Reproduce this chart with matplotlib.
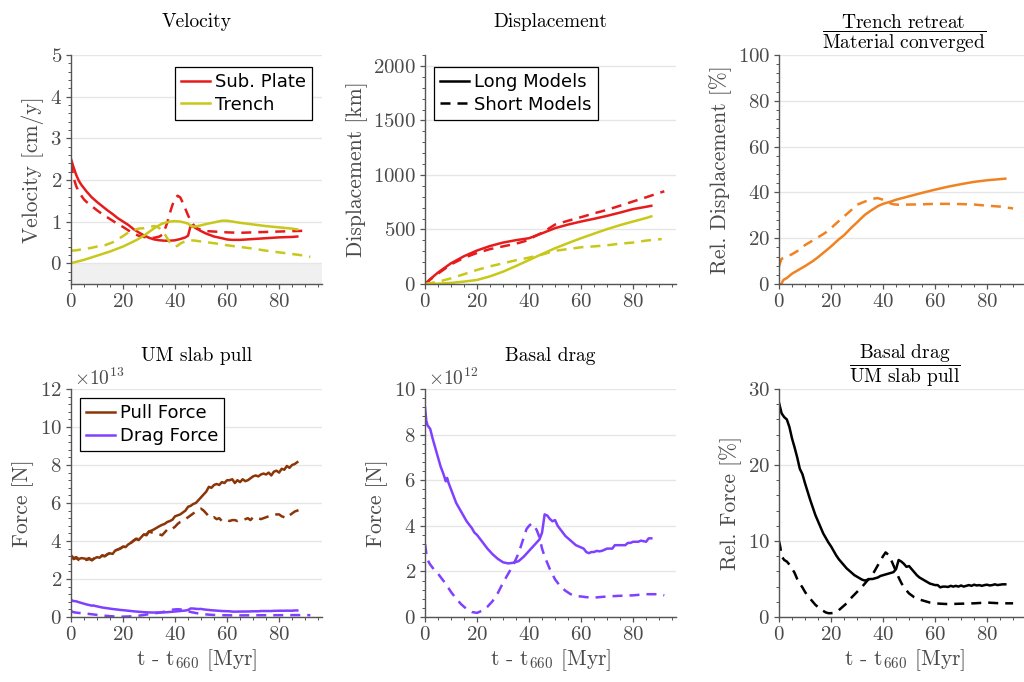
import numpy as np
import matplotlib
matplotlib.use('Agg')
import matplotlib.pyplot as plt
from matplotlib.ticker import MultipleLocator
from matplotlib.lines import Line2D

# ---- velocity [cm/y] ----
t_plate_vel = [0, 1, 2, 3, 4, 5, 6, 8, 10, 12, 14, 16, 18, 20, 22, 24, 26, 28, 30, 32, 34, 36, 38, 40, 42, 44, 45,
               46, 47, 48, 50, 52, 55, 58, 60, 62, 65, 70, 75, 80, 85, 87]
plate_vel = [2.5, 2.3, 2.12, 1.98, 1.88, 1.8, 1.72, 1.58, 1.47, 1.37, 1.27, 1.18, 1.08, 1.0, 0.92, 0.82, 0.74, 0.67,
             0.61, 0.57, 0.55, 0.54, 0.54, 0.55, 0.58, 0.62, 0.66, 0.9, 0.88, 0.84, 0.77, 0.71, 0.64, 0.6, 0.57, 0.56,
             0.56, 0.58, 0.6, 0.62, 0.63, 0.64]
t_plate_vel_s = [0, 1, 2, 3, 4, 5, 6, 8, 10, 12, 14, 16, 18, 20, 22, 24, 26, 28, 30, 32, 34, 35, 36, 37, 38, 39, 40,
                 41, 42, 43, 44, 45, 46, 47, 48, 50, 52, 55, 60, 65, 70, 75, 80, 85, 91]
plate_vel_s = [2.4, 2.05, 1.85, 1.72, 1.62, 1.53, 1.47, 1.37, 1.27, 1.18, 1.1, 1.02, 0.94, 0.87, 0.79, 0.71, 0.66,
               0.63, 0.61, 0.61, 0.64, 0.68, 0.8, 0.97, 1.2, 1.4, 1.55, 1.62, 1.58, 1.45, 1.3, 1.15, 1.02, 0.93, 0.85,
               0.8, 0.77, 0.76, 0.74, 0.73, 0.74, 0.75, 0.76, 0.77, 0.78]
t_trench_vel = [0, 5, 10, 15, 20, 25, 28, 30, 32, 35, 38, 40, 42, 44, 45, 46, 47, 48, 50, 52, 55, 58, 60, 62, 65, 70,
                75, 80, 85, 87]
trench_vel = [0.0, 0.08, 0.18, 0.28, 0.4, 0.55, 0.66, 0.75, 0.84, 0.95, 1.0, 1.01, 1.0, 0.97, 0.95, 0.9, 0.88, 0.88,
              0.91, 0.94, 0.98, 1.02, 1.02, 1.0, 0.97, 0.93, 0.89, 0.86, 0.83, 0.81]
t_trench_vel_s = [0, 2, 5, 8, 10, 13, 16, 20, 23, 26, 28, 30, 32, 33, 34, 35, 36, 37, 38, 39, 40, 41, 42, 44, 46, 48,
                  50, 55, 60, 65, 70, 75, 80, 85, 90, 92]
trench_vel_s = [0.3, 0.31, 0.34, 0.37, 0.4, 0.43, 0.5, 0.65, 0.78, 0.83, 0.84, 0.87, 0.89, 0.88, 0.84, 0.78, 0.7, 0.6,
                0.5, 0.43, 0.4, 0.42, 0.47, 0.53, 0.55, 0.54, 0.52, 0.48, 0.43, 0.39, 0.35, 0.3, 0.26, 0.22, 0.18, 0.15]

# ---- displacement [km] ----
t_plate_disp = [0, 2, 5, 10, 15, 20, 25, 30, 35, 40, 45, 50, 55, 60, 65, 70, 75, 80, 85, 87]
plate_disp = [0, 45, 105, 190, 255, 307, 348, 380, 402, 420, 465, 512, 545, 573, 598, 625, 655, 687, 708, 717]
t_plate_disp_s = [0, 2, 5, 10, 15, 20, 25, 30, 35, 38, 40, 42, 45, 50, 55, 60, 65, 70, 75, 80, 85, 90, 92]
plate_disp_s = [0, 40, 95, 180, 240, 285, 320, 345, 370, 390, 405, 435, 470, 545, 580, 613, 648, 680, 718, 757, 795,
                835, 850]
t_trench_disp = [0, 5, 10, 15, 20, 25, 30, 35, 40, 45, 50, 55, 60, 65, 70, 75, 80, 85, 87]
trench_disp = [0, 3, 10, 22, 37, 70, 113, 165, 220, 275, 328, 375, 420, 462, 503, 540, 573, 605, 620]
t_trench_disp_s = [0, 5, 10, 15, 20, 25, 30, 35, 40, 45, 50, 55, 60, 65, 70, 75, 80, 85, 91]
trench_disp_s = [0, 20, 52, 90, 129, 162, 190, 218, 242, 270, 305, 320, 337, 345, 355, 370, 380, 398, 412]

# ---- relative displacement [%] ----
t_rel_disp = [0, 1, 1.5, 2, 3, 5, 8, 10, 13, 15, 18, 20, 23, 25, 28, 30, 33, 35, 38, 40, 43, 45, 50, 55, 60, 65, 70,
              75, 80, 85, 87]
rel_disp = [0, 0, 1.5, 2.0, 2.6, 4.5, 6.5, 7.8, 10.0, 11.7, 14.5, 16.4, 19.5, 21.3, 24.8, 26.9, 30.2, 31.8, 34.0,
            35.0, 36.0, 36.8, 38.3, 39.8, 41.2, 42.5, 43.6, 44.6, 45.3, 45.8, 46.0]
t_rel_disp_s = [0, 0.5, 1, 3, 5, 8, 10, 13, 15, 18, 20, 23, 25, 28, 30, 33, 35, 37, 38, 40, 42, 44, 46, 50, 55, 60,
                65, 70, 75, 80, 85, 90]
rel_disp_s = [7.6, 9.5, 11, 12, 13, 15, 17, 19, 20.4, 22.5, 24.4, 27.5, 29.5, 32.5, 34.6, 36.0, 36.8, 37.4, 37.5,
              36.8, 35.5, 34.8, 34.6, 34.7, 34.8, 35.0, 35.0, 34.9, 34.7, 34.2, 33.8, 33.0]

# ---- UM slab pull [x1e13 N], 1 Myr steps ----
pull = [3.25, 3.1, 3.15, 3.05, 3.1, 3.08, 3.05, 3.1, 2.98, 3.08, 3.15, 3.12, 3.25, 3.2, 3.3, 3.35, 3.32, 3.5, 3.55,
        3.6, 3.7, 3.68, 3.82, 3.9, 4.0, 4.1, 4.05, 4.2, 4.35, 4.3, 4.5, 4.55, 4.62, 4.7, 4.78, 4.85, 4.9, 5.0, 5.05,
        5.12, 5.3, 5.35, 5.4, 5.5, 5.6, 5.8, 5.85, 5.95, 6.0, 6.15, 6.3, 6.45, 6.6, 6.85, 6.8, 6.95, 7.0, 6.95, 7.1,
        7.05, 7.2, 7.2, 7.25, 7.05, 7.2, 7.1, 7.25, 7.15, 7.2, 7.3, 7.4, 7.45, 7.4, 7.5, 7.55, 7.5, 7.6, 7.45, 7.65,
        7.7, 7.6, 7.8, 7.75, 7.95, 7.85, 8.0, 8.05, 8.15]
pull_s = [3.2, 3.05, 3.1, 3.0, 3.08, 3.05, 3.0, 3.05, 3.0, 3.1, 3.12, 3.15, 3.22, 3.2, 3.3, 3.38, 3.35, 3.5, 3.55,
          3.62, 3.7, 3.7, 3.85, 3.9, 4.02, 4.12, 4.1, 4.2, 4.32, 4.35, 4.5, 4.45, 4.4, 4.35, 4.35, 4.3, 4.45, 4.6,
          4.55, 4.65, 4.75, 4.9, 5.0, 5.05, 5.15, 5.25, 5.35, 5.45, 5.55, 5.65, 5.7, 5.6, 5.45, 5.3, 5.2, 5.25, 5.15,
          5.2, 5.05, 5.1, 5.1, 5.05, 5.1, 5.1, 5.05, 5.1, 5.1, 5.15, 5.2, 5.1, 5.25, 5.2, 5.2, 5.15, 5.2, 5.25, 5.3,
          5.3, 5.35, 5.4, 5.4, 5.3, 5.25, 5.2, 5.35, 5.45, 5.55, 5.6, 5.65, 5.7]
t_pull = np.arange(len(pull))
t_pull_s = np.arange(len(pull_s))

# ---- basal drag [x1e12 N] ----
t_drag = [0, 0.5, 1, 2, 3, 4, 5, 6, 7, 8, 8.5, 9, 10, 11, 12, 13, 14, 15, 16, 17, 18, 19, 20, 22, 24, 26, 28, 30, 32,
          34, 36, 38, 40, 42, 44, 45, 46, 47, 48, 49, 50, 51, 52, 54, 56, 58, 60, 61, 62, 63, 64, 65, 66, 67, 68, 69,
          70, 71, 72, 73, 75, 77, 78, 79, 80, 82, 83, 85, 86, 87]
drag = [9.2, 8.6, 8.4, 8.25, 7.8, 7.4, 7.0, 6.6, 6.3, 5.95, 6.1, 5.9, 5.6, 5.3, 5.0, 4.8, 4.6, 4.4, 4.2, 4.05, 3.9,
        3.7, 3.6, 3.3, 3.0, 2.75, 2.55, 2.4, 2.35, 2.38, 2.45, 2.65, 2.9, 3.15, 3.4, 3.7, 4.5, 4.45, 4.3, 4.2, 4.25,
        4.0, 3.85, 3.55, 3.35, 3.15, 3.05, 3.0, 2.85, 2.8, 2.85, 2.85, 2.9, 2.88, 2.9, 2.95, 3.0, 3.0, 3.0, 3.15,
        3.15, 3.15, 3.25, 3.25, 3.3, 3.3, 3.35, 3.3, 3.45, 3.45]
t_drag_s = [0, 0.5, 1, 2, 3, 4, 5, 6, 8, 10, 12, 14, 16, 18, 20, 22, 24, 26, 28, 30, 32, 34, 36, 38, 39, 40, 41, 42,
            43, 44, 45, 46, 48, 50, 52, 54, 56, 58, 60, 62, 65, 68, 70, 75, 80, 85, 90, 92]
drag_s = [3.2, 2.8, 2.5, 2.3, 2.15, 2.0, 1.9, 1.75, 1.45, 1.1, 0.8, 0.55, 0.35, 0.22, 0.18, 0.28, 0.45, 0.7, 1.05,
          1.5, 1.9, 2.3, 2.8, 3.5, 3.85, 4.0, 4.1, 4.0, 3.8, 3.5, 3.0, 2.65, 2.1, 1.65, 1.35, 1.15, 1.0, 0.92, 0.9,
          0.87, 0.85, 0.88, 0.9, 0.93, 0.95, 1.0, 1.0, 0.95]

# ---- relative force [%] ----
rel_force = [28.2, 26.8, 26.3, 26.0, 25.0, 23.5, 22.3, 21.0, 19.5, 18.8, 17.6, 16.5, 15.4, 14.4, 13.4, 12.6, 11.8,
             11.0, 10.4, 9.8, 9.3, 8.7, 8.1, 7.6, 7.2, 6.8, 6.4, 6.1, 5.8, 5.5, 5.3, 5.1, 4.9, 4.8, 4.9, 5.0, 5.0,
             5.1, 5.2, 5.4, 5.5, 5.6, 5.7, 5.8, 5.9, 6.3, 7.5, 7.3, 7.0, 6.6, 6.7, 6.3, 5.9, 5.5, 5.2, 5.0, 4.8, 4.6,
             4.4, 4.3, 4.2, 4.2, 3.9, 4.0, 4.0, 3.95, 4.1, 4.0, 4.1, 4.0, 4.15, 4.0, 4.1, 4.2, 4.1, 4.25, 4.15, 4.2,
             4.1, 4.2, 4.25, 4.15, 4.2, 4.3, 4.2, 4.25, 4.3, 4.3]
t_rel_force = np.arange(len(rel_force))
t_rel_force_s = [0, 0.5, 1, 2, 3, 4, 5, 6, 7, 8, 9, 10, 11, 12, 13, 14, 15, 16, 17, 18, 19, 20, 21, 22, 23, 24, 26,
                 28, 30, 32, 34, 36, 38, 40, 41, 42, 43, 44, 45, 46, 47, 48, 50, 52, 54, 56, 58, 60, 62, 65, 70, 75,
                 80, 85, 90]
rel_force_s = [10.0, 9.2, 8.0, 7.5, 7.3, 6.9, 6.4, 5.8, 5.0, 4.4, 3.9, 3.3, 2.8, 2.4, 2.0, 1.6, 1.3, 1.0, 0.8, 0.6,
               0.5, 0.5, 0.55, 0.7, 0.9, 1.2, 1.8, 2.6, 3.3, 4.0, 4.8, 5.6, 6.8, 8.0, 8.5, 8.2, 7.6, 6.8, 6.0, 5.2,
               4.5, 3.9, 3.1, 2.6, 2.3, 2.1, 1.9, 1.8, 1.75, 1.7, 1.75, 1.8, 1.9, 1.8, 1.8]

red = '#e61c1c'
yellow = '#c8c81a'
orange = '#f08222'
brown = '#8a3608'
purple = '#8040ff'
gray_txt = '#4a4a4a'

plt.rcParams['font.family'] = ['cmr10']
plt.rcParams['mathtext.fontset'] = 'cm'
plt.rcParams['axes.formatter.use_mathtext'] = True
plt.rcParams['axes.unicode_minus'] = False

lw = 1.8
dash = (4.0, 2.8)
tick_fs = 15
label_fs = 15.5
title_fs = 14

fig = plt.figure(figsize=(10.24, 6.82), dpi=100)
lefts = [71 / 1024, 425 / 1024, 779 / 1024]
w = 251 / 1024
top_b, top_h = 1 - 284 / 682, 229 / 682
bot_b, bot_h = 1 - 617 / 682, 228 / 682
axes = [[fig.add_axes([l, top_b, w, top_h]) for l in lefts],
        [fig.add_axes([l, bot_b, w, bot_h]) for l in lefts]]


def style(ax, ylim, major, minor):
    ax.set_xlim(0, 96.5)
    ax.set_ylim(*ylim)
    ax.xaxis.set_major_locator(MultipleLocator(20))
    ax.xaxis.set_minor_locator(MultipleLocator(5))
    ax.yaxis.set_major_locator(MultipleLocator(major))
    ax.yaxis.set_minor_locator(MultipleLocator(minor))
    for s in ['top', 'right']:
        ax.spines[s].set_visible(False)
    for s in ['left', 'bottom']:
        ax.spines[s].set_color('#555555')
        ax.spines[s].set_linewidth(1.0)
    ax.tick_params(which='major', direction='out', length=3.5, width=0.9, color='#555555',
                   labelsize=tick_fs, labelcolor=gray_txt, pad=3)
    ax.tick_params(which='minor', direction='out', length=2, width=0.7, color='#555555')
    ax.grid(axis='y', which='major', color='#e6e6e6', lw=1.0)
    ax.set_axisbelow(True)


def legend(ax, handles, labels, anchor, loc):
    lg = ax.legend(handles, labels, loc=loc, bbox_to_anchor=anchor, borderaxespad=0,
                   prop={'family': 'DejaVu Sans', 'size': 13}, fancybox=False, framealpha=1,
                   edgecolor='black', handlelength=1.6, handletextpad=0.25, labelspacing=0.25,
                   borderpad=0.35)
    lg.get_frame().set_linewidth(0.9)


# Velocity
ax = axes[0][0]
style(ax, (-0.5, 5), 1, 0.2)
ax.axhspan(-0.5, 0, color='#f0f0f0', lw=0, zorder=0)
ax.plot(t_plate_vel, plate_vel, color=red, lw=lw)
ax.plot(t_plate_vel_s, plate_vel_s, color=red, lw=lw, dashes=dash)
ax.plot(t_trench_vel, trench_vel, color=yellow, lw=lw)
ax.plot(t_trench_vel_s, trench_vel_s, color=yellow, lw=lw, dashes=dash)
ax.set_ylabel('Velocity [cm/y]', fontsize=label_fs, color=gray_txt)
ax.set_title('Velocity', fontsize=title_fs, pad=20)
legend(ax, [Line2D([], [], color=red, lw=lw), Line2D([], [], color=yellow, lw=lw)],
       ['Sub. Plate', 'Trench'], (0.96, 0.948), 'upper right')

# Displacement
ax = axes[0][1]
style(ax, (0, 2100), 500, 100)
ax.plot(t_plate_disp, plate_disp, color=red, lw=lw)
ax.plot(t_plate_disp_s, plate_disp_s, color=red, lw=lw, dashes=dash)
ax.plot(t_trench_disp, trench_disp, color=yellow, lw=lw)
ax.plot(t_trench_disp_s, trench_disp_s, color=yellow, lw=lw, dashes=dash)
ax.set_ylabel('Displacement [km]', fontsize=label_fs, color=gray_txt)
ax.set_title('Displacement', fontsize=title_fs, pad=20)
legend(ax, [Line2D([], [], color='black', lw=lw), Line2D([], [], color='black', lw=lw, dashes=dash)],
       ['Long Models', 'Short Models'], (0.036, 0.948), 'upper left')

# Relative displacement
ax = axes[0][2]
style(ax, (0, 100), 20, 4)
ax.plot(t_rel_disp, rel_disp, color=orange, lw=lw)
ax.plot(t_rel_disp_s, rel_disp_s, color=orange, lw=lw, dashes=dash)
ax.set_ylabel('Rel. Displacement [%]', fontsize=label_fs, color=gray_txt)
ax.set_title(r'$\dfrac{\mathrm{Trench\ retreat}}{\mathrm{Material\ converged}}$', fontsize=title_fs, pad=3)

# UM slab pull
ax = axes[1][0]
style(ax, (0, 12), 2, 0.4)
ax.plot(t_pull, pull, color=brown, lw=lw)
ax.plot(t_pull_s, pull_s, color=brown, lw=lw, dashes=dash)
ax.plot(t_drag, np.array(drag) / 10, color=purple, lw=lw)
ax.plot(t_drag_s, np.array(drag_s) / 10, color=purple, lw=lw, dashes=dash)
ax.set_ylabel('Force [N]', fontsize=label_fs, color=gray_txt)
ax.set_title('UM slab pull', fontsize=title_fs, pad=20)
ax.text(0.01, 1.0, r'$\times10^{13}$', transform=ax.transAxes, ha='left', va='bottom',
        fontsize=14, color=gray_txt)
legend(ax, [Line2D([], [], color=brown, lw=lw), Line2D([], [], color=purple, lw=lw)],
       ['Pull Force', 'Drag Force'], (0.036, 0.96), 'upper left')

# Basal drag
ax = axes[1][1]
style(ax, (0, 10), 2, 0.4)
ax.plot(t_drag, drag, color=purple, lw=lw)
ax.plot(t_drag_s, drag_s, color=purple, lw=lw, dashes=dash)
ax.set_ylabel('Force [N]', fontsize=label_fs, color=gray_txt)
ax.set_title('Basal drag', fontsize=title_fs, pad=20)
ax.text(0.01, 1.0, r'$\times10^{12}$', transform=ax.transAxes, ha='left', va='bottom',
        fontsize=14, color=gray_txt)

# Relative force
ax = axes[1][2]
style(ax, (0, 30), 10, 2)
ax.plot(t_rel_force, rel_force, color='black', lw=lw)
ax.plot(t_rel_force_s, rel_force_s, color='black', lw=lw, dashes=dash)
ax.set_ylabel('Rel. Force [%]', fontsize=label_fs, color=gray_txt)
ax.set_title(r'$\dfrac{\mathrm{Basal\ drag}}{\mathrm{UM\ slab\ pull}}$', fontsize=title_fs, pad=3)

for ax in axes[1]:
    ax.set_xlabel(r't - t$_{660}$ [Myr]', fontsize=label_fs, color=gray_txt, labelpad=2)

fig.savefig('out.png', dpi=100)
